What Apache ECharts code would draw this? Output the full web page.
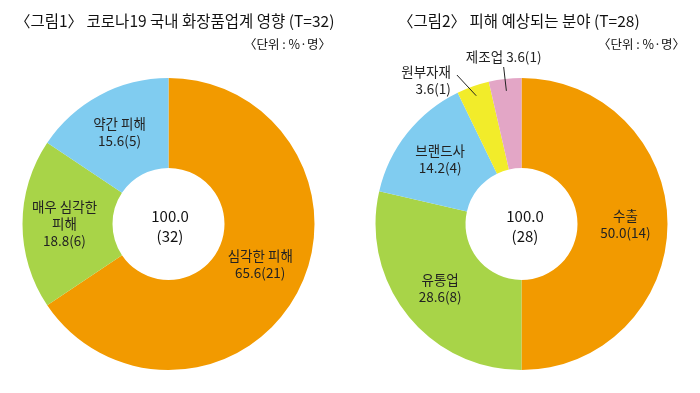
<!DOCTYPE html>
<html><head><meta charset="utf-8">
<script src="https://cdn.jsdelivr.net/npm/echarts@6/dist/echarts.min.js"></script>
<style>html,body{margin:0;padding:0;background:#fff}#c{width:700px;height:393px}</style>
</head><body><div id="c"></div>
<script>
const title1 = '〈그림1〉 코로나19 국내 화장품업계 영향 (T=32)';
const title2 = '〈그림2〉 피해 예상되는 분야 (T=28)';
const unitText = '〈단위 : %·명〉';
const cats1 = ['심각한 피해', '매우 심각한 피해', '약간 피해'];
const labels1 = ['심각한 피해', '매우 심각한\n피해', '약간 피해'];
const pct1 = [65.6, 18.8, 15.6];
const cnt1 = [21, 6, 5];
const total1 = ['100.0', 32];
const cats2 = ['수출', '유통업', '브랜드사', '원부자재', '제조업'];
const labels2 = ['수출', '유통업', '브랜드사', '원부자재', '제조업'];
const pct2 = [50.0, 28.6, 14.2, 3.6, 3.6];
const cnt2 = [14, 8, 4, 1, 1];
const total2 = ['100.0', 28];
const colors1 = ['#F29A00', '#A8D448', '#80CCF0'];
const colors2 = ['#F29A00', '#A8D448', '#80CCF0', '#F2EC2A', '#E3A6C6'];
const outsideIdx2 = [3, 4];

const FONT = '"Noto Sans CJK KR", sans-serif';
function fmt(p){ return p.toFixed(1); }

const data1 = cats1.map((c,i)=>({name:c, value:pct1[i], itemStyle:{color:colors1[i]},
  label:{formatter: labels1[i] + '\n' + fmt(pct1[i]) + '(' + cnt1[i] + ')'}}));

// base ring with inside labels (small slices unlabeled here)
const data2 = cats2.map((c,i)=>{
  const d = {name:c, value:pct2[i], itemStyle:{color:colors2[i]}};
  if (outsideIdx2.indexOf(i) >= 0) d.label = {show:false};
  else d.label = {formatter: labels2[i] + '\n' + fmt(pct2[i]) + '(' + cnt2[i] + ')'};
  return d;
});
// transparent overlay ring carrying the outside labels + leader lines (drawn on top)
const data2o = cats2.map((c,i)=>{
  const d = {name:c, value:pct2[i], itemStyle:{color:'rgba(0,0,0,0)'}};
  if (i===3) {
    d.label = {show:true, position:'outside', formatter: labels2[i] + '\n' + fmt(pct2[i]) + '(' + cnt2[i] + ')'};
    d.labelLine = {show:true, length:12, length2:0, lineStyle:{color:'#222', width:1}};
  } else if (i===4) {
    d.label = {show:true, position:'outside', formatter: labels2[i] + ' ' + fmt(pct2[i]) + '(' + cnt2[i] + ')'};
    d.labelLine = {show:true, length:12, length2:0, lineStyle:{color:'#222', width:1}};
  } else {
    d.label = {show:false};
    d.labelLine = {show:false};
  }
  return d;
});

// extend a leader line inward (into the slice) along its own direction
function leader(pts, inward, endShiftX){
  const s = pts[0], e = pts[1];
  const dx = e[0]-s[0], dy = e[1]-s[1];
  const len = Math.sqrt(dx*dx+dy*dy) || 1;
  const start = [s[0] - dx/len*inward, s[1] - dy/len*inward];
  const end = [e[0] + endShiftX, e[1]];
  return [start, end, end];
}

const chart = echarts.init(document.getElementById('c'));
const labelBase = {show:true, position:'inside', color:'#222', fontFamily:FONT, fontSize:13.5, lineHeight:17};
chart.setOption({
  animation:false,
  textStyle:{fontFamily:FONT},
  title:[
    {text:title1, left:10, top:8, textStyle:{fontFamily:FONT, fontSize:15.5, fontWeight:'normal', color:'#111'}},
    {text:unitText, right:364, top:33, textStyle:{fontFamily:FONT, fontSize:12.5, fontWeight:'normal', color:'#111'}},
    {text:title2, left:393, top:8, textStyle:{fontFamily:FONT, fontSize:15.5, fontWeight:'normal', color:'#111'}},
    {text:unitText, right:10, top:33, textStyle:{fontFamily:FONT, fontSize:12.5, fontWeight:'normal', color:'#111'}},
    {text:total1[0] + '\n(' + total1[1] + ')', left:165, top:201, textAlign:'center',
      textStyle:{fontFamily:FONT, fontSize:15, fontWeight:'normal', color:'#111', lineHeight:20}},
    {text:total2[0] + '\n(' + total2[1] + ')', left:520, top:201, textAlign:'center',
      textStyle:{fontFamily:FONT, fontSize:15, fontWeight:'normal', color:'#111', lineHeight:20}}
  ],
  series:[
    {type:'pie', center:[168.5,224], radius:[56,146], startAngle:90, clockwise:true,
     label:labelBase, labelLine:{show:false}, emphasis:{disabled:true}, data:data1,
     labelLayout:function(p){
       if (p.dataIndex===0) return {dy:-9};
       return {};
     }},
    {type:'pie', center:[521.5,224], radius:[56,146], startAngle:90, clockwise:true,
     avoidLabelOverlap:false,
     label:labelBase, labelLine:{show:false}, emphasis:{disabled:true}, data:data2},
    {type:'pie', z:5, silent:true, center:[521.5,224], radius:[56,146], startAngle:90, clockwise:true,
     avoidLabelOverlap:false,
     label:labelBase, emphasis:{disabled:true}, data:data2o,
     labelLayout:function(p){
       const pts = p.labelLinePoints;
       if (p.dataIndex===3 && pts) {
         const lp = leader(pts, 10, -12);
         return {x: lp[1][0]-6, y: lp[1][1]+5, align:'right', verticalAlign:'middle', labelLinePoints: lp};
       }
       if (p.dataIndex===4 && pts) {
         const lp = leader(pts, 12, 0);
         return {x: lp[1][0], y: lp[1][1]-2, align:'center', verticalAlign:'bottom', labelLinePoints: lp};
       }
       return {};
     }}
  ]
});
</script></body></html>
